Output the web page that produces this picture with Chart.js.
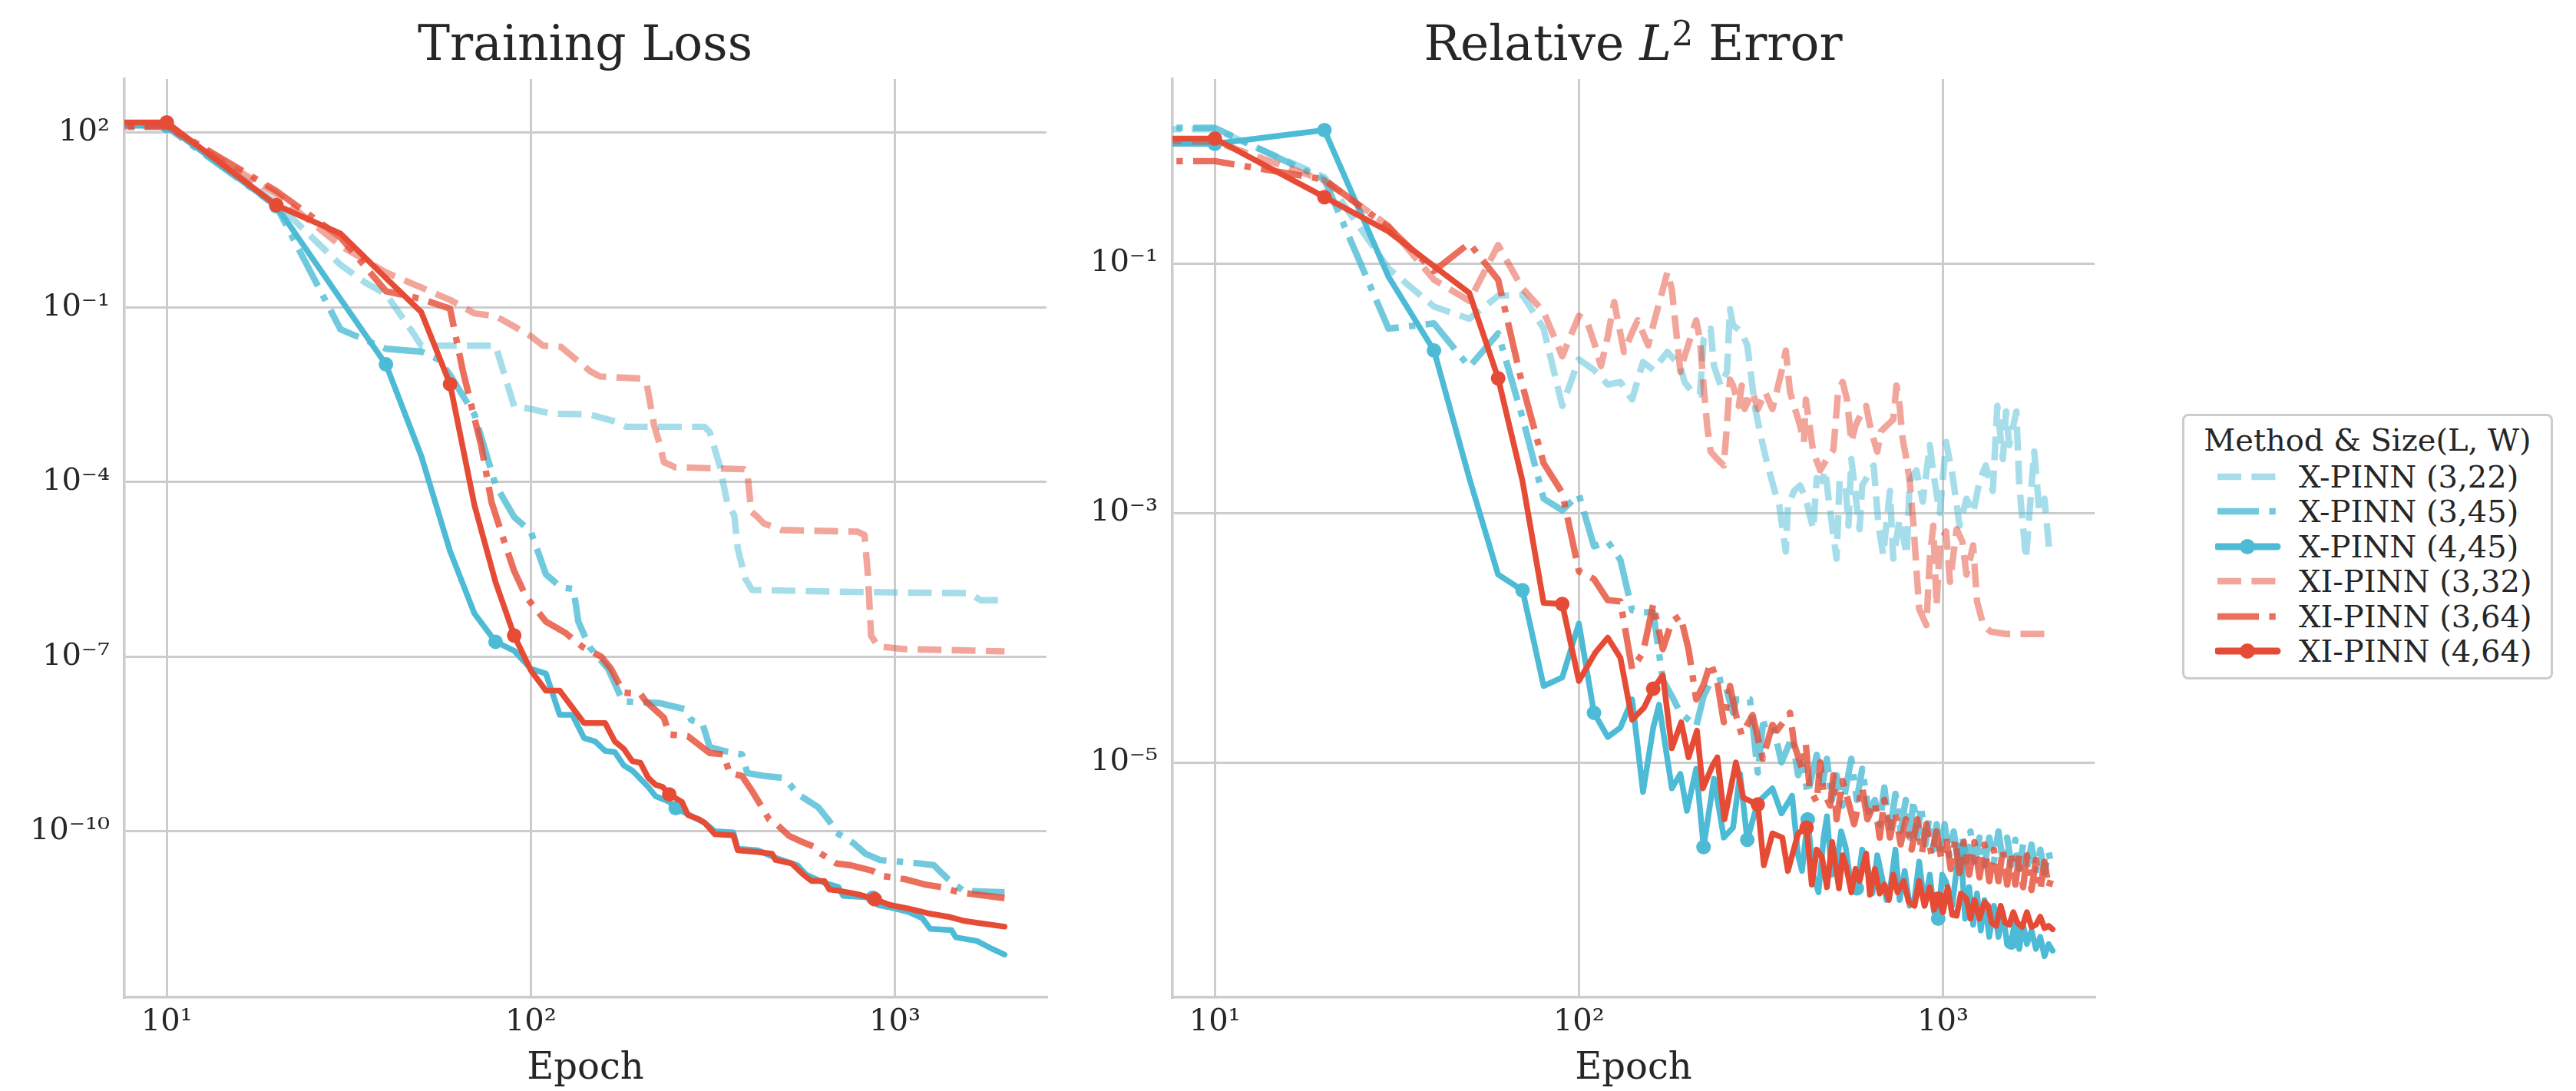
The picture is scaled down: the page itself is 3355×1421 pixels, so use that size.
<!DOCTYPE html>
<html>
<head>
<meta charset="utf-8">
<script src="https://cdn.jsdelivr.net/npm/chart.js@4.4.1/dist/chart.umd.min.js"></script>
<style>
  html, body { margin: 0; padding: 0; background: #ffffff; }
  #wrap { position: relative; width: 3355px; height: 1421px; overflow: hidden;
          font-family: 'DejaVu Serif', serif; color: #262626; background: #ffffff; }
  canvas { position: absolute; top: 0; }
  #c1 { left: 0px; }
  #c2 { left: 1365px; }
  .ptitle { position: absolute; top: 25px; font-size: 63px; line-height: 63px; white-space: nowrap;
            transform: translateX(-50%); }
  .ptitle .sup { font-size: 0.7em; position: relative; top: -0.42em; }
  #legend { position: absolute; left: 2842px; top: 539px; width: 483px; height: 346px; box-sizing: border-box;
            border: 3.5px solid #cccccc; border-radius: 8px; background: #ffffff; z-index: 5; }
  #legend .lt { position: absolute; left: 0; width: 100%; text-align: center; top: 11px; font-size: 40px; line-height: 40px; white-space: nowrap; }
  #legend .row { position: absolute; left: 0; height: 40px; width: 100%; }
  #legend .row svg { position: absolute; left: 40px; top: 0; }
  #legend .row span { position: absolute; left: 149px; top: 0; font-size: 40px; line-height: 40px; white-space: nowrap; }
</style>
</head>
<body>
<div id="wrap">
  <canvas id="c1" width="1525" height="1421"></canvas>
  <canvas id="c2" width="1525" height="1421"></canvas>
  <div class="ptitle" style="left:762px;">Training Loss</div>
  <div class="ptitle" style="left:2127px;">Relative <i>L</i><span class="sup">2</span> Error</div>
  <div id="legend"></div>
</div>
<script>
// ---------------- series ----------------
const seriesNames = ['X-PINN (3,22)', 'X-PINN (3,45)', 'X-PINN (4,45)', 'XI-PINN (3,32)', 'XI-PINN (3,64)', 'XI-PINN (4,64)'];
const legendTitle = 'Method & Size(L, W)';

// ---------------- axes ----------------
const xTickValues = [10, 100, 1000];
const lossTickValues = [1e2, 1e-1, 1e-4, 1e-7, 1e-10];
const errTickValues = [1e-1, 1e-3, 1e-5];
const xRange = [7.65, 2608];
const lossRange = [1.4e-13, 838];
const errRange = [1.31e-7, 3.0];

// ---------------- Training loss (left panel) ----------------
const lossEp_XP_3_22 = [1, 10, 20, 30, 35, 40, 48, 50, 80, 90, 100, 114, 145, 170, 183, 300, 310, 330, 347, 362, 370, 388, 405, 700, 1600, 1720, 2000];
const loss_XP_3_22 = [135, 135, 6.2, 0.54, 0.27, 0.17, 0.033, 0.022, 0.022, 2.0e-3, 1.8e-3, 1.5e-3, 1.45e-3, 1.1e-3, 8.9e-4, 8.9e-4, 7.2e-4, 1.95e-4, 4.1e-5, 2.7e-5, 7.2e-6, 2.2e-6, 1.4e-6, 1.3e-6, 1.23e-6, 9.3e-7, 9.3e-7];

const lossEp_XP_3_45 = [1, 10, 20, 30, 40, 50, 56, 60, 70, 80, 90, 100, 110, 121, 131, 135, 145, 163, 179, 225, 264, 276, 296, 310, 339, 380, 393, 437, 490, 512, 542, 615, 660, 690, 770, 830, 910, 1170, 1280, 1340, 1400, 1540, 2000];
const loss_XP_3_45 = [126, 126, 5.5, 0.042, 0.0195, 0.0174, 0.0126, 6.9e-3, 1.45e-3, 8.9e-5, 2.5e-5, 1.4e-5, 2.6e-6, 1.55e-6, 1.45e-6, 4.0e-7, 1.45e-7, 6.2e-8, 1.7e-8, 1.6e-8, 1.26e-8, 8.1e-9, 7.1e-9, 2.8e-9, 2.4e-9, 2.1e-9, 1.0e-9, 8.9e-10, 8.3e-10, 6.6e-10, 4.3e-10, 2.6e-10, 1.5e-10, 9.5e-11, 6.2e-11, 4.1e-11, 3.2e-11, 2.8e-11, 2.6e-11, 1.95e-11, 1.5e-11, 9.5e-12, 8.9e-12];

const lossEp_XP_4_45 = [1, 10, 20, 30, 40, 50, 60, 70, 80, 90, 100, 110, 120, 130, 140, 150, 160, 170, 180, 190, 210, 220, 240, 250, 270, 300, 320, 360, 370, 420, 470, 540, 570, 640, 700, 720, 870, 900, 1000, 1090, 1190, 1250, 1430, 1470, 1680, 1850, 2000];
const loss_XP_4_45 = [132, 132, 5.5, 0.14, 0.0105, 2.8e-4, 6.5e-6, 5.5e-7, 1.8e-7, 1.26e-7, 6.2e-8, 5.1e-8, 1.0e-8, 1.0e-8, 4.0e-9, 3.5e-9, 2.4e-9, 2.3e-9, 1.35e-9, 1.1e-9, 5.8e-10, 4.0e-10, 3.2e-10, 2.5e-10, 1.95e-10, 1.4e-10, 1.0e-10, 9.5e-11, 5.0e-11, 4.7e-11, 3.5e-11, 2.6e-11, 1.8e-11, 1.3e-11, 1.1e-11, 7.8e-12, 7.2e-12, 5.4e-12, 4.7e-12, 4.1e-12, 3.2e-12, 2.1e-12, 2.0e-12, 1.5e-12, 1.3e-12, 9.5e-13, 7.6e-13];

const lossEp_XI_3_32 = [1, 10, 20, 30, 40, 50, 60, 70, 80, 90, 100, 108, 121, 129, 146, 155, 200, 208, 218, 226, 232, 249, 386, 393, 403, 417, 436, 488, 790, 825, 843, 860, 897, 1060, 2000];
const loss_XI_3_32 = [126, 126, 8.9, 1.15, 0.40, 0.22, 0.135, 0.079, 0.071, 0.047, 0.032, 0.022, 0.021, 0.015, 7.9e-3, 6.5e-3, 6.0e-3, 4.9e-3, 9.5e-4, 4.4e-4, 2.2e-4, 1.8e-4, 1.66e-4, 1.5e-4, 3.1e-5, 2.6e-5, 1.95e-5, 1.5e-5, 1.4e-5, 1.23e-5, 2.5e-6, 2.3e-7, 1.5e-7, 1.35e-7, 1.23e-7];

const lossEp_XI_3_64 = [1, 10, 20, 30, 40, 50, 60, 65, 73, 78, 84, 90, 97, 110, 124, 139, 156, 166, 180, 200, 207, 232, 240, 270, 310, 339, 351, 380, 407, 431, 451, 477, 512, 555, 600, 616, 690, 756, 865, 925, 1065, 1220, 1340, 1500, 2000];
const loss_XI_3_64 = [132, 132, 10, 1.6, 0.19, 0.14, 0.095, 8.3e-3, 4.3e-4, 4.5e-5, 1.07e-5, 2.95e-6, 1.07e-6, 4.0e-7, 2.6e-7, 1.45e-7, 1.0e-7, 6.2e-8, 2.4e-8, 2.3e-8, 1.7e-8, 8.9e-9, 4.6e-9, 4.3e-9, 2.2e-9, 2.1e-9, 1.0e-9, 8.9e-10, 4.7e-10, 2.6e-10, 1.6e-10, 1.26e-10, 8.3e-11, 6.6e-11, 5.4e-11, 4.4e-11, 2.8e-11, 2.6e-11, 2.1e-11, 1.7e-11, 1.5e-11, 1.2e-11, 1.1e-11, 8.9e-12, 7.1e-12];

const lossEp_XI_4_64 = [1, 10, 20, 30, 40, 50, 60, 70, 80, 90, 100, 110, 120, 140, 160, 170, 180, 190, 200, 210, 220, 230, 240, 260, 270, 290, 300, 320, 360, 370, 420, 460, 470, 520, 560, 590, 640, 660, 700, 790, 880, 970, 1090, 1230, 1400, 1540, 1730, 2000];
const loss_XI_4_64 = [151, 151, 5.7, 1.86, 0.32, 0.083, 4.8e-3, 4.0e-5, 1.9e-6, 2.3e-7, 5.8e-8, 2.6e-8, 2.6e-8, 7.2e-9, 7.2e-9, 3.5e-9, 2.6e-9, 1.6e-9, 1.5e-9, 8.3e-10, 6.3e-10, 5.8e-10, 4.3e-10, 3.2e-10, 1.9e-10, 1.6e-10, 1.4e-10, 8.9e-11, 8.5e-11, 4.7e-11, 4.4e-11, 4.1e-11, 3.2e-11, 2.8e-11, 1.8e-11, 1.4e-11, 1.4e-11, 1.0e-11, 9.5e-12, 8.3e-12, 6.8e-12, 5.4e-12, 4.7e-12, 3.9e-12, 3.4e-12, 2.9e-12, 2.6e-12, 2.3e-12];

const lossMarks_XP_4_45 = [10, 20, 40, 80, 250, 870];
const lossMarks_XI_4_64 = [10, 20, 60, 90, 240, 880];

// ---------------- Relative L2 error (right panel) ----------------
const errEp_XP_3_22 = [1, 10, 20, 30, 40, 50, 60, 70, 80, 90, 100, 110, 120, 130, 140, 150, 160, 175, 190, 195, 205, 215, 220, 230, 235, 245, 255, 260, 265, 280, 290, 295, 305, 320, 330, 345, 355, 370, 375, 390, 405, 420, 440, 450, 465, 475, 485, 510, 520, 540, 550, 560, 590, 600, 645, 665, 685, 715, 730, 760, 795, 810, 845, 880, 920, 940, 980, 1020, 1065, 1110, 1160, 1210, 1260, 1310, 1370, 1410, 1460, 1490, 1520, 1590, 1620, 1690, 1780, 1840, 1900, 1960, 2000];
const err_XP_3_22 = [1.19, 1.19, 0.49, 0.091, 0.045, 0.036, 0.055, 0.056, 0.030, 7.2e-3, 0.017, 0.014, 0.0107, 0.0112, 8.1e-3, 0.0162, 0.014, 0.0195, 0.015, 0.0112, 9.3e-3, 8.9e-3, 0.0245, 0.030, 0.015, 0.0105, 0.0135, 0.043, 0.032, 0.028, 0.022, 0.015, 6.8e-3, 3.5e-3, 2.4e-3, 1.5e-3, 1.15e-3, 4.9e-4, 1.15e-3, 1.5e-3, 1.66e-3, 1.3e-3, 7.4e-4, 1.9e-3, 1.8e-3, 2.2e-3, 1.3e-3, 4.3e-4, 1.8e-3, 1.66e-3, 7.9e-4, 2.7e-3, 7.4e-4, 1.66e-3, 2.4e-3, 7.9e-4, 4.6e-4, 1.5e-3, 4.3e-4, 8.9e-4, 4.6e-4, 1.8e-3, 2.2e-3, 1.23e-3, 3.5e-3, 2.1e-3, 1.0e-3, 3.7e-3, 1.9e-3, 7.9e-4, 1.3e-3, 1.0e-3, 1.8e-3, 2.4e-3, 1.5e-3, 7.2e-3, 2.7e-3, 6.5e-3, 3.5e-3, 6.5e-3, 1.66e-3, 4.3e-4, 3.1e-3, 1.0e-3, 1.3e-3, 4.9e-4, 4.9e-4];

const errEp_XP_3_45 = [1, 10, 20, 30, 40, 50, 60, 70, 80, 90, 100, 110, 120, 130, 140, 150, 160, 170, 180, 190, 210, 220, 230, 250, 265, 270, 295, 310, 320, 340, 360, 385, 400, 410, 425, 450, 465, 480, 495, 510, 530, 560, 580, 600, 625, 650, 670, 690, 715, 740, 765, 790, 810, 830, 850, 870, 895, 915, 940, 960, 985, 1010, 1040, 1070, 1100, 1130, 1160, 1190, 1220, 1260, 1300, 1340, 1380, 1420, 1460, 1500, 1540, 1580, 1620, 1660, 1700, 1750, 1800, 1850, 1900, 1950, 2000];
const err_XP_3_45 = [1.22, 1.22, 0.47, 0.030, 0.033, 0.0148, 0.0275, 5.8e-3, 1.3e-3, 1.05e-3, 1.4e-3, 5.4e-4, 5.9e-4, 4.2e-4, 1.66e-4, 1.6e-4, 1.6e-4, 4.6e-5, 3.4e-5, 2.5e-5, 1.95e-5, 3.4e-5, 4.4e-5, 4.6e-5, 2.5e-5, 3.2e-5, 3.2e-5, 8.3e-6, 2.0e-5, 2.1e-5, 1.0e-5, 1.6e-5, 7.9e-6, 1.0e-5, 5.6e-6, 1.15e-5, 6.3e-6, 1.07e-5, 5.0e-6, 7.9e-6, 4.5e-6, 1.07e-5, 5.0e-6, 8.9e-6, 4.0e-6, 5.0e-6, 3.2e-6, 6.3e-6, 2.8e-6, 5.6e-6, 2.8e-6, 5.0e-6, 2.5e-6, 5.0e-6, 2.5e-6, 4.5e-6, 2.2e-6, 3.5e-6, 2.0e-6, 3.2e-6, 1.8e-6, 3.2e-6, 1.8e-6, 2.8e-6, 1.6e-6, 2.5e-6, 1.6e-6, 2.8e-6, 1.6e-6, 2.5e-6, 1.5e-6, 2.5e-6, 1.6e-6, 2.8e-6, 1.6e-6, 2.5e-6, 1.5e-6, 2.4e-6, 1.4e-6, 2.2e-6, 1.4e-6, 2.2e-6, 1.3e-6, 2.0e-6, 1.3e-6, 1.9e-6, 1.4e-6];

const errEp_XP_4_45 = [1, 10, 20, 30, 40, 50, 60, 70, 80, 90, 100, 110, 120, 130, 140, 150, 160, 166, 180, 190, 198, 210, 220, 235, 250, 265, 277, 290, 310, 340, 360, 385, 400, 410, 425, 440, 455, 470, 480, 495, 510, 525, 540, 560, 580, 600, 620, 640, 660, 680, 700, 720, 740, 760, 785, 810, 835, 860, 890, 920, 945, 970, 995, 1020, 1060, 1090, 1120, 1150, 1180, 1210, 1240, 1270, 1300, 1340, 1380, 1420, 1460, 1500, 1540, 1580, 1620, 1660, 1700, 1750, 1800, 1850, 1900, 1950, 2000];
const err_XP_4_45 = [0.91, 0.91, 1.17, 0.078, 0.020, 1.9e-3, 3.2e-4, 2.4e-4, 4.1e-5, 4.8e-5, 1.3e-4, 2.5e-5, 1.6e-5, 1.9e-5, 3.2e-5, 5.8e-6, 1.9e-5, 2.9e-5, 6.2e-6, 8.1e-6, 4.1e-6, 8.9e-6, 2.1e-6, 7.4e-6, 2.5e-6, 3.0e-6, 8.1e-6, 2.4e-6, 4.8e-6, 6.2e-6, 3.9e-6, 5.4e-6, 1.8e-6, 1.35e-6, 3.5e-6, 1.26e-6, 9.1e-7, 2.5e-6, 3.7e-6, 1.26e-6, 1.5e-6, 2.8e-6, 2.1e-6, 1.0e-6, 9.8e-7, 2.0e-6, 1.5e-6, 8.9e-7, 1.8e-6, 1.2e-6, 7.9e-7, 1.1e-6, 2.0e-6, 7.9e-7, 1.35e-6, 7.1e-7, 8.1e-7, 1.6e-6, 7.1e-7, 1.26e-6, 6.3e-7, 5.6e-7, 1.26e-6, 1.1e-6, 7.1e-7, 1.4e-6, 2.0e-6, 5.6e-7, 1.0e-6, 5.0e-7, 8.9e-7, 4.5e-7, 7.9e-7, 4.0e-7, 7.1e-7, 4.0e-7, 6.3e-7, 3.5e-7, 3.6e-7, 5.6e-7, 3.2e-7, 5.0e-7, 3.5e-7, 4.5e-7, 3.2e-7, 4.0e-7, 2.8e-7, 3.5e-7, 3.1e-7];

const errEp_XI_3_32 = [1, 10, 20, 30, 40, 50, 60, 70, 80, 90, 100, 105, 110, 115, 120, 125, 133, 140, 145, 155, 160, 175, 180, 190, 195, 210, 215, 220, 225, 230, 240, 250, 255, 260, 265, 275, 280, 285, 300, 310, 325, 340, 360, 370, 380, 405, 415, 420, 430, 440, 460, 480, 500, 515, 530, 545, 560, 575, 600, 615, 635, 660, 675, 700, 730, 745, 760, 775, 790, 810, 830, 860, 900, 920, 940, 960, 980, 1020, 1045, 1090, 1130, 1160, 1210, 1240, 1290, 1350, 1490, 2000];
const err_XI_3_32 = [0.95, 0.95, 0.46, 0.20, 0.074, 0.050, 0.14, 0.063, 0.041, 0.018, 0.038, 0.035, 0.0234, 0.015, 0.026, 0.049, 0.0195, 0.028, 0.035, 0.022, 0.032, 0.085, 0.062, 0.0135, 0.018, 0.035, 0.0245, 0.0105, 5.0e-3, 3.1e-3, 2.7e-3, 2.4e-3, 5.0e-3, 0.0117, 0.0105, 7.2e-3, 0.0105, 6.8e-3, 9.3e-3, 6.8e-3, 9.3e-3, 6.8e-3, 0.0135, 0.020, 9.3e-3, 5.0e-3, 3.7e-3, 8.1e-3, 5.0e-3, 3.1e-3, 2.2e-3, 2.7e-3, 3.2e-3, 9.3e-3, 0.0112, 8.1e-3, 3.7e-3, 5.0e-3, 6.5e-3, 7.2e-3, 4.5e-3, 3.1e-3, 4.5e-3, 5.0e-3, 5.6e-3, 0.0105, 7.2e-3, 3.9e-3, 2.9e-3, 1.8e-3, 7.9e-4, 1.7e-4, 1.26e-4, 4.3e-4, 7.9e-4, 1.8e-4, 5.9e-4, 7.1e-4, 2.8e-4, 7.4e-4, 5.9e-4, 3.2e-4, 5.5e-4, 1.95e-4, 1.26e-4, 1.12e-4, 1.07e-4, 1.07e-4];

const errEp_XI_3_64 = [1, 10, 20, 30, 40, 50, 60, 70, 80, 90, 100, 110, 120, 130, 140, 150, 160, 170, 180, 190, 200, 210, 220, 230, 240, 250, 260, 270, 280, 300, 320, 340, 350, 380, 390, 410, 420, 430, 450, 460, 470, 490, 500, 510, 530, 550, 570, 600, 620, 650, 670, 690, 715, 740, 765, 790, 820, 850, 875, 900, 930, 960, 990, 1020, 1050, 1080, 1110, 1140, 1180, 1220, 1260, 1300, 1340, 1380, 1420, 1460, 1500, 1540, 1580, 1620, 1660, 1700, 1750, 1800, 1850, 1900, 1950, 2000];
const err_XI_3_64 = [0.66, 0.66, 0.47, 0.195, 0.087, 0.145, 0.074, 0.0105, 2.5e-3, 1.45e-3, 3.4e-4, 2.95e-4, 2.0e-4, 1.95e-4, 5.6e-5, 7.6e-5, 1.86e-4, 8.1e-5, 1.35e-4, 1.5e-4, 8.1e-5, 3.2e-5, 4.2e-5, 6.3e-5, 4.4e-5, 2.1e-5, 4.1e-5, 2.4e-5, 1.66e-5, 2.4e-5, 1.07e-5, 2.0e-5, 1.8e-5, 2.5e-5, 1.4e-5, 8.9e-6, 1.4e-5, 6.2e-6, 4.8e-6, 1.0e-5, 5.8e-6, 4.5e-6, 7.9e-6, 3.5e-6, 7.1e-6, 4.8e-6, 3.2e-6, 6.3e-6, 3.5e-6, 4.8e-6, 2.5e-6, 5.0e-6, 2.5e-6, 4.0e-6, 2.2e-6, 3.5e-6, 2.0e-6, 3.5e-6, 1.86e-6, 3.2e-6, 1.8e-6, 2.8e-6, 1.66e-6, 2.5e-6, 1.4e-6, 2.4e-6, 1.3e-6, 2.3e-6, 1.26e-6, 2.3e-6, 1.2e-6, 2.2e-6, 1.12e-6, 2.0e-6, 1.12e-6, 2.0e-6, 1.05e-6, 1.9e-6, 1.05e-6, 1.8e-6, 1.0e-6, 1.8e-6, 9.5e-7, 1.66e-6, 9.5e-7, 1.6e-6, 1.0e-6, 1.26e-6];

const errEp_XI_4_64 = [1, 10, 20, 30, 40, 50, 60, 70, 80, 90, 100, 111, 120, 130, 140, 151, 160, 170, 180, 191, 200, 211, 219, 233, 240, 251, 270, 283, 310, 322, 340, 362, 375, 400, 422, 436, 450, 465, 480, 496, 518, 530, 541, 560, 575, 590, 615, 630, 650, 670, 690, 710, 730, 750, 780, 805, 835, 860, 890, 920, 945, 970, 1000, 1030, 1060, 1090, 1120, 1160, 1190, 1220, 1260, 1300, 1330, 1360, 1400, 1440, 1480, 1520, 1560, 1600, 1650, 1700, 1750, 1800, 1850, 1900, 1950, 2000];
const err_XI_4_64 = [1.0, 1.0, 0.34, 0.18, 0.095, 0.058, 0.012, 1.8e-3, 1.9e-4, 1.86e-4, 4.5e-5, 7.6e-5, 1.0e-4, 6.9e-5, 2.2e-5, 2.75e-5, 3.9e-5, 5.0e-5, 1.3e-5, 2.1e-5, 1.1e-5, 1.8e-5, 6.2e-6, 9.5e-6, 1.1e-5, 3.5e-6, 1.0e-5, 5.2e-6, 4.6e-6, 1.5e-6, 2.7e-6, 2.5e-6, 1.35e-6, 2.7e-6, 3.0e-6, 1.05e-6, 2.0e-6, 1.74e-6, 1.0e-6, 2.3e-6, 9.8e-7, 1.8e-6, 1.5e-6, 9.1e-7, 1.4e-6, 1.12e-6, 1.86e-6, 8.7e-7, 1.4e-6, 8.9e-7, 1.05e-6, 7.9e-7, 1.26e-6, 9.1e-7, 1.12e-6, 7.6e-7, 7.1e-7, 1.12e-6, 7.1e-7, 1.0e-6, 6.6e-7, 8.1e-7, 6.3e-7, 1.0e-6, 6.0e-7, 5.9e-7, 8.9e-7, 8.1e-7, 5.6e-7, 7.9e-7, 5.6e-7, 7.6e-7, 7.1e-7, 5.2e-7, 4.9e-7, 7.1e-7, 5.2e-7, 5.0e-7, 6.3e-7, 5.2e-7, 4.8e-7, 6.3e-7, 4.8e-7, 5.0e-7, 5.8e-7, 4.7e-7, 4.9e-7, 4.6e-7];

const errMarks_XP_4_45 = [10, 20, 40, 70, 110, 220, 290, 425, 580, 970, 1120, 1540];
const errMarks_XI_4_64 = [10, 20, 60, 90, 160, 310, 422, 970];

// ---------------- styling ----------------
const CYAN = '77,187,213', RED = '230,75,53';
const seriesColor = [`rgba(${CYAN},0.5)`, `rgba(${CYAN},0.8)`, `rgb(${CYAN})`, `rgba(${RED},0.5)`, `rgba(${RED},0.8)`, `rgb(${RED})`];
const DASHED = [31, 13.4], DASHDOT = [54, 13.4, 8.4, 13.4];
const seriesDash = [DASHED, DASHDOT, [], DASHED, DASHDOT, []];
const seriesWidth = [8.4, 8.4, 7.5, 8.4, 8.4, 7.5];
const MARKER_R = 9.5;
const TEXT = '#262626', GRID = '#cccccc';
const FONT = 'DejaVu Serif';

Chart.defaults.font.family = FONT;
Chart.defaults.color = TEXT;

const SUP = {'-': '\u207B', '0': '\u2070', '1': '\u00B9', '2': '\u00B2', '3': '\u00B3', '4': '\u2074', '5': '\u2075', '6': '\u2076', '7': '\u2077', '8': '\u2078', '9': '\u2079'};
function powLabel(v) {
  const e = String(Math.round(Math.log10(v)));
  return '10' + e.split('').map(c => SUP[c]).join('');
}

function buildDatasets(epochSets, valueSets, markerSets) {
  return seriesNames.map((name, i) => {
    const marks = markerSets[i];
    return {
      label: name,
      data: epochSets[i].map((e, k) => ({x: e, y: valueSets[i][k]})),
      borderColor: seriesColor[i],
      backgroundColor: seriesColor[i],
      borderWidth: seriesWidth[i],
      borderDash: seriesDash[i],
      borderCapStyle: seriesDash[i].length ? 'butt' : 'round',
      borderJoinStyle: 'round',
      tension: 0,
      fill: false,
      pointRadius: (c) => (marks && c.raw && marks.includes(c.raw.x)) ? MARKER_R : 0,
      pointHoverRadius: 0,
      pointHitRadius: 0,
      pointBorderWidth: 0,
      pointBackgroundColor: seriesColor[i],
      order: seriesNames.length - i,
      clip: 0
    };
  });
}

function buildChart(canvasId, datasets, yRange, yTicks) {
  return new Chart(document.getElementById(canvasId), {
    type: 'line',
    data: {datasets},
    options: {
      responsive: false,
      devicePixelRatio: 1,
      animation: false,
      events: [],
      layout: {padding: {left: 0, right: 162, top: 103, bottom: 0}},
      plugins: {legend: {display: false}, tooltip: {enabled: false}, title: {display: false}},
      scales: {
        x: {
          type: 'logarithmic', min: xRange[0], max: xRange[1],
          afterBuildTicks: (s) => { s.ticks = xTickValues.map(v => ({value: v})); },
          afterFit: (s) => { s.height = 122; },
          ticks: {callback: (v) => powLabel(v), font: {size: 40}, color: TEXT, padding: 9, maxRotation: 0, autoSkip: false},
          grid: {color: GRID, lineWidth: 3, drawTicks: false},
          border: {display: true, color: GRID, width: 3.5},
          title: {display: true, text: 'Epoch', font: {size: 48}, color: TEXT, padding: {top: 0, bottom: 0}}
        },
        y: {
          type: 'logarithmic', min: yRange[0], max: yRange[1],
          afterBuildTicks: (s) => { s.ticks = yTicks.map(v => ({value: v})); },
          afterFit: (s) => { s.width = 162; },
          ticks: {callback: (v) => powLabel(v), font: {size: 40}, color: TEXT, padding: 19, autoSkip: false},
          grid: {color: GRID, lineWidth: 3, drawTicks: false},
          border: {display: true, color: GRID, width: 3.5}
        }
      }
    }
  });
}

buildChart('c1',
  buildDatasets(
    [lossEp_XP_3_22, lossEp_XP_3_45, lossEp_XP_4_45, lossEp_XI_3_32, lossEp_XI_3_64, lossEp_XI_4_64],
    [loss_XP_3_22, loss_XP_3_45, loss_XP_4_45, loss_XI_3_32, loss_XI_3_64, loss_XI_4_64],
    [null, null, lossMarks_XP_4_45, null, null, lossMarks_XI_4_64]),
  lossRange, lossTickValues);

buildChart('c2',
  buildDatasets(
    [errEp_XP_3_22, errEp_XP_3_45, errEp_XP_4_45, errEp_XI_3_32, errEp_XI_3_64, errEp_XI_4_64],
    [err_XP_3_22, err_XP_3_45, err_XP_4_45, err_XI_3_32, err_XI_3_64, err_XI_4_64],
    [null, null, errMarks_XP_4_45, null, null, errMarks_XI_4_64]),
  errRange, errTickValues);

// ---------------- legend (HTML) ----------------
(function buildLegend() {
  const box = document.getElementById('legend');
  const t = document.createElement('div');
  t.className = 'lt';
  t.textContent = legendTitle;
  box.appendChild(t);
  seriesNames.forEach((name, i) => {
    const row = document.createElement('div');
    row.className = 'row';
    row.style.top = (59 + i * 45.4) + 'px';
    const hasMarker = seriesDash[i].length === 0;
    const dash = seriesDash[i].join(' ');
    row.innerHTML =
      `<svg width="90" height="40" viewBox="0 0 90 40">` +
      `<line x1="3" y1="20" x2="81" y2="20" stroke="${seriesColor[i]}" stroke-width="${seriesWidth[i] + (hasMarker ? 1.5 : 0)}" ` +
      `stroke-linecap="${hasMarker ? 'round' : 'butt'}" ${dash ? `stroke-dasharray="${dash}"` : ''}/>` +
      (hasMarker ? `<circle cx="42" cy="20" r="${MARKER_R + 0.5}" fill="${seriesColor[i]}"/>` : '') +
      `</svg><span>${name}</span>`;
    box.appendChild(row);
  });
})();
</script>
</body>
</html>
